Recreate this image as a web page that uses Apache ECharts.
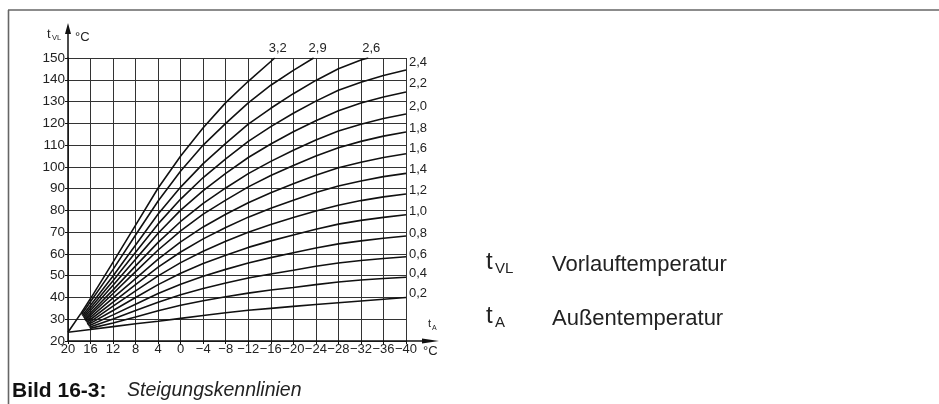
<!DOCTYPE html>
<html>
<head>
<meta charset="utf-8">
<script src="https://cdn.jsdelivr.net/npm/echarts@6/dist/echarts.min.js"></script>
<style>
  html, body { margin: 0; padding: 0; background: #fff; }
  #chart { width: 939px; height: 404px; }
</style>
</head>
<body>
<div id="chart"></div>
<script>
// Steigungskennlinien: [Außentemperatur tA, Vorlauftemperatur tVL]
const c02 = [[20, 24], [16, 25.3], [12, 26.6], [8, 27.9], [4, 29.1], [0, 30.4], [-4, 31.7], [-8, 33.0], [-12, 34.1], [-16, 35.0], [-20, 35.9], [-24, 36.8], [-28, 37.6], [-32, 38.4], [-36, 39.2], [-40, 40.0]];
const c04 = [[16.1, 25.8], [12, 28.3], [8, 31.0], [4, 33.9], [0, 36.4], [-4, 38.5], [-8, 40.3], [-12, 42.0], [-16, 43.4], [-20, 44.6], [-24, 45.9], [-28, 47.1], [-32, 48.0], [-36, 48.7], [-40, 49.3]];
const c06 = [[16.2, 26.3], [12, 30.1], [8, 34.0], [4, 37.8], [0, 41.2], [-4, 44.1], [-8, 46.6], [-12, 48.9], [-16, 50.8], [-20, 52.5], [-24, 54.3], [-28, 55.8], [-32, 57.0], [-36, 57.9], [-40, 58.7]];
const c08 = [[16.35, 26.9], [12, 32.0], [8, 36.9], [4, 41.8], [0, 46.1], [-4, 49.7], [-8, 52.9], [-12, 55.8], [-16, 58.3], [-20, 60.5], [-24, 62.7], [-28, 64.6], [-32, 66.0], [-36, 67.2], [-40, 68.2]];
const c10 = [[16.5, 27.4], [12, 34.0], [8, 40.0], [4, 45.9], [0, 51.1], [-4, 55.6], [-8, 59.4], [-12, 63.0], [-16, 66.0], [-20, 68.7], [-24, 71.3], [-28, 73.7], [-32, 75.4], [-36, 76.8], [-40, 78.0]];
const c12 = [[16.6, 27.9], [12, 36.0], [8, 43.0], [4, 49.9], [0, 56.0], [-4, 61.2], [-8, 65.8], [-12, 70.0], [-16, 73.5], [-20, 76.7], [-24, 79.7], [-28, 82.4], [-32, 84.5], [-36, 86.2], [-40, 87.5]];
const c14 = [[16.7, 28.5], [12, 37.9], [8, 45.9], [4, 53.9], [0, 60.9], [-4, 66.9], [-8, 72.1], [-12, 76.9], [-16, 81.0], [-20, 84.7], [-24, 88.2], [-28, 91.2], [-32, 93.5], [-36, 95.5], [-40, 97.0]];
const c16 = [[16.85, 29.0], [12, 39.8], [8, 48.7], [4, 57.6], [0, 65.5], [-4, 72.4], [-8, 78.2], [-12, 83.5], [-16, 88.1], [-20, 92.2], [-24, 96.1], [-28, 99.6], [-32, 102.1], [-36, 104.3], [-40, 106.0]];
const c18 = [[17.0, 29.5], [12, 41.8], [8, 51.9], [4, 61.8], [0, 70.6], [-4, 78.3], [-8, 84.7], [-12, 90.8], [-16, 96.0], [-20, 100.6], [-24, 105.0], [-28, 108.8], [-32, 111.7], [-36, 114.1], [-40, 116.0]];
const c20 = [[17.1, 30.0], [12, 43.5], [8, 54.5], [4, 65.3], [0, 74.9], [-4, 83.2], [-8, 90.3], [-12, 96.9], [-16, 102.5], [-20, 107.6], [-24, 112.3], [-28, 116.5], [-32, 119.6], [-36, 122.2], [-40, 124.3]];
const c22 = [[17.2, 30.6], [12, 45.6], [8, 57.6], [4, 69.5], [0, 80.1], [-4, 89.1], [-8, 97.0], [-12, 104.3], [-16, 110.5], [-20, 116.1], [-24, 121.2], [-28, 125.8], [-32, 129.3], [-36, 132.1], [-40, 134.4]];
const c24 = [[17.3, 31.1], [12, 47.7], [8, 60.8], [4, 73.8], [0, 85.2], [-4, 95.1], [-8, 103.7], [-12, 111.7], [-16, 118.5], [-20, 124.6], [-24, 130.2], [-28, 135.2], [-32, 138.9], [-36, 142.0], [-40, 144.5]];
const c26 = [[17.45, 31.6], [12, 49.9], [8, 64.1], [4, 78.3], [0, 90.7], [-4, 101.5], [-8, 110.8], [-12, 119.6], [-16, 126.9], [-20, 133.6], [-24, 139.7], [-28, 145.1], [-32, 149.1], [-33.3, 150]];
const c29 = [[17.6, 32.2], [12, 52.9], [8, 68.7], [4, 84.3], [0, 98.1], [-4, 110.0], [-8, 120.0], [-12, 129.4], [-16, 137.5], [-20, 144.3], [-23.6, 150]];
const c32 = [[20, 24], [17.7, 32.7], [16, 39.5], [12, 56.2], [8, 73.2], [4, 90.3], [0, 105.0], [-4, 118.0], [-8, 129.5], [-12, 139.3], [-16.7, 150]];

const slopeNames = ['0,2', '0,4', '0,6', '0,8', '1,0', '1,2', '1,4', '1,6', '1,8', '2,0', '2,2', '2,4', '2,6', '2,9', '3,2'];
const slopeData = [c02, c04, c06, c08, c10, c12, c14, c16, c18, c20, c22, c24, c26, c29, c32];

// axis ranges
const tAMin = -40, tAMax = 20, tAStep = 4;
const tVLMin = 20, tVLMax = 150, tVLStep = 10;

// label placement (style only): right-hand labels vs. labels above the top edge
const labelOffsets = [[3, -4], [3, -4], [3, -2], [3, -3], [3, -3], [3, -4], [3, -4], [3, -5], [3, -4], [3, -8], [3, -9], [3, -8], [3, -10], [4, -10], [3, -10]];
const topLabel = [false, false, false, false, false, false, false, false, false, false, false, false, true, true, true];

const font = '"Liberation Sans", Arial, sans-serif';
const chart = echarts.init(document.getElementById('chart'));

const minus = v => (v < 0 ? '\u2212' + (-v) : String(v));

const series = slopeData.map((d, i) => ({
  name: slopeNames[i],
  type: 'line',
  data: d,
  symbol: 'none',
  silent: true,
  lineStyle: { color: '#111', width: 1.6 },
  endLabel: {
    show: true,
    formatter: slopeNames[i],
    fontFamily: font,
    fontSize: 13,
    color: '#222',
    distance: 0,
    offset: labelOffsets[i],
    align: topLabel[i] ? 'center' : 'left',
    verticalAlign: 'middle'
  }
}));

const option = {
  animation: false,
  backgroundColor: '#fff',
  grid: { left: 68, right: 533, top: 58, bottom: 63 },
  xAxis: {
    type: 'value',
    inverse: true,
    min: tAMin,
    max: tAMax,
    interval: tAStep,
    axisLine: { show: true, onZero: false, lineStyle: { color: '#111', width: 1.5 } },
    axisTick: { show: true, length: 3, lineStyle: { color: '#111' } },
    splitLine: { show: true, lineStyle: { color: '#333', width: 1 } },
    axisLabel: {
      margin: 2, fontFamily: font, fontSize: 13, color: '#222',
      interval: 0, hideOverlap: false, showMinLabel: true, showMaxLabel: true, formatter: minus
    }
  },
  yAxis: {
    type: 'value',
    min: tVLMin,
    max: tVLMax,
    interval: tVLStep,
    axisLine: { show: true, onZero: false, lineStyle: { color: '#111', width: 1.5 } },
    axisTick: { show: true, length: 3, lineStyle: { color: '#111' } },
    splitLine: { show: true, lineStyle: { color: '#333', width: 1 } },
    axisLabel: { margin: 3, fontFamily: font, fontSize: 13.5, color: '#222', showMinLabel: true, showMaxLabel: true }
  },
  series: series
};

chart.setOption(option);

// axis arrows and captions, placed from the axes
const [ox, oy] = chart.convertToPixel({ xAxisIndex: 0, yAxisIndex: 0 }, [tAMax, tVLMin]);
const [ex, ey] = chart.convertToPixel({ xAxisIndex: 0, yAxisIndex: 0 }, [tAMin, tVLMax]);
const txt = (x, y, text, size, extra) => ({
  type: 'text', x: x, y: y, silent: true,
  style: Object.assign({ text: text, fontFamily: font, fontSize: size, fill: '#222', verticalAlign: 'middle' }, extra || {})
});

chart.setOption({
  graphic: [
    // page frame
    { type: 'line', silent: true, shape: { x1: 8, y1: 10, x2: 939, y2: 10 }, style: { stroke: '#666', lineWidth: 1.6 } },
    { type: 'line', silent: true, shape: { x1: 8.5, y1: 10, x2: 8.5, y2: 404 }, style: { stroke: '#666', lineWidth: 1.6 } },
    // y axis extension + arrow
    { type: 'line', silent: true, shape: { x1: ox, y1: ey, x2: ox, y2: ey - 26 }, style: { stroke: '#111', lineWidth: 1.5 } },
    { type: 'polygon', silent: true, shape: { points: [[ox - 3, ey - 24], [ox, ey - 35], [ox + 3, ey - 24]] }, style: { fill: '#111' } },
    // x axis extension + arrow
    { type: 'line', silent: true, shape: { x1: ex, y1: oy, x2: ex + 22, y2: oy }, style: { stroke: '#111', lineWidth: 1.5 } },
    { type: 'polygon', silent: true, shape: { points: [[ex + 16, oy - 2.6], [ex + 33, oy], [ex + 16, oy + 2.6]] }, style: { fill: '#111' } },
    // axis titles
    txt(ox - 21, ey - 24, 't', 13),
    txt(ox - 16, ey - 20, 'VL', 7.5),
    txt(ox + 7, ey - 21, '\u00b0C', 13),
    txt(ex + 22, oy - 17, 't', 11),
    txt(ex + 26, oy - 13, 'A', 7),
    txt(ex + 17, oy + 10, '\u00b0C', 13),
    // legend
    txt(486, 262, 't', 24),
    txt(495, 269, 'VL', 15),
    txt(552, 265, 'Vorlauftemperatur', 22),
    txt(486, 316, 't', 24),
    txt(495, 323, 'A', 15),
    txt(552, 319, 'Au\u00dfentemperatur', 22),
    // caption
    txt(12, 391, 'Bild 16-3:', 21, { fontWeight: 'bold', fill: '#111' }),
    txt(127, 391, 'Steigungskennlinien', 19.5, { fontStyle: 'italic', fill: '#222' })
  ]
});
</script>
</body>
</html>
